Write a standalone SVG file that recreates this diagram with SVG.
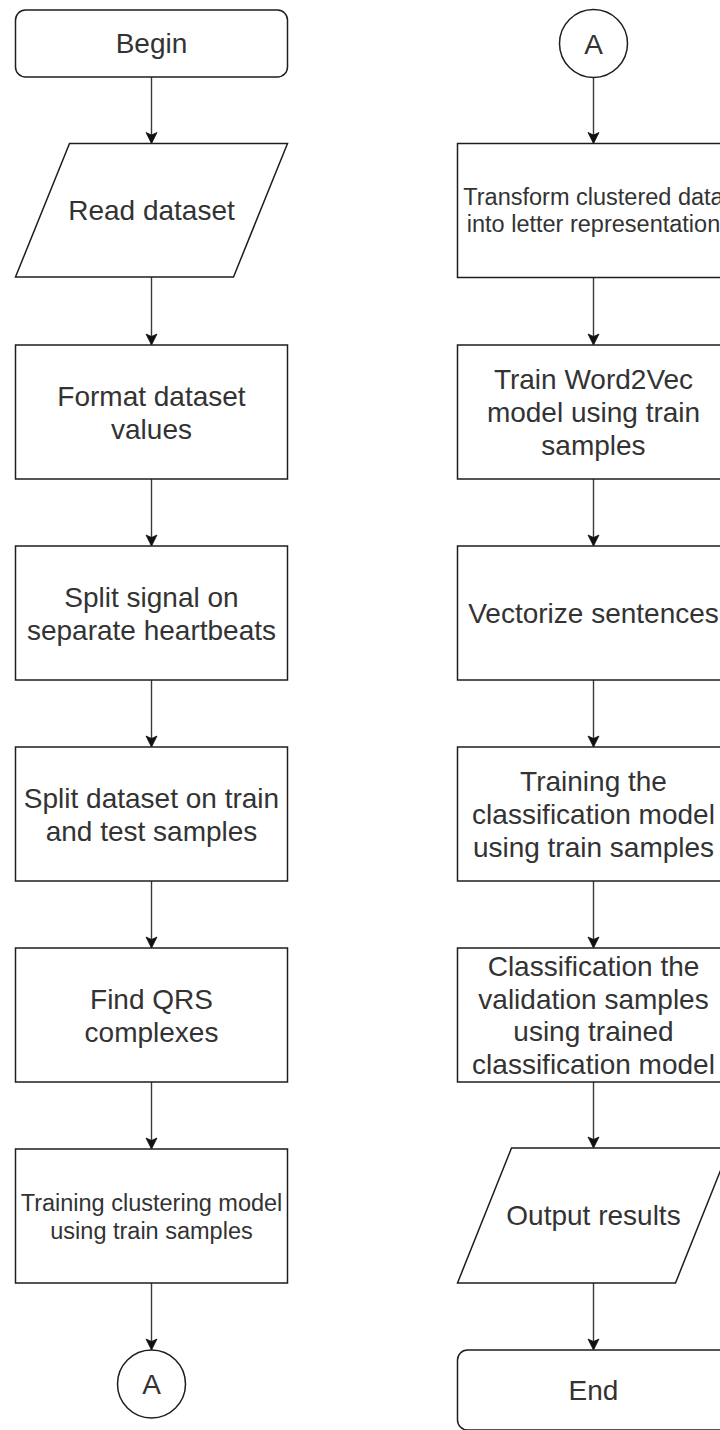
<svg xmlns="http://www.w3.org/2000/svg" width="720" height="1430" viewBox="0 0 720 1430">
  <style>
    .shape { fill: #ffffff; stroke: #1e1e1e; stroke-width: 1.5; }
    .label { font-family: "Liberation Sans", Arial, sans-serif; font-size: 28px; fill: #333333; text-anchor: middle; }
    .small { font-size: 23.5px; }
    .edge { fill: none; stroke: #3a3a3a; stroke-width: 1.4; marker-end: url(#arrow); }
  </style>
  <defs>
    <marker id="arrow" markerUnits="userSpaceOnUse" markerWidth="14" markerHeight="14" viewBox="-12 -7 14 14" refX="0" refY="0" orient="auto">
      <path d="M0,0 L-11,-5.5 L-8.5,0 L-11,5.5 Z" fill="#111111" stroke="#111111" stroke-width="0.8" stroke-linejoin="miter"/>
    </marker>
  </defs>
  <rect width="720" height="1430" fill="#ffffff"/>

  <!-- connectors -->
  <g id="connectors">
    <line class="edge" x1="151.5" y1="77" x2="151.5" y2="143.5"/>
    <line class="edge" x1="151.5" y1="277" x2="151.5" y2="345"/>
    <line class="edge" x1="151.5" y1="479" x2="151.5" y2="546"/>
    <line class="edge" x1="151.5" y1="680" x2="151.5" y2="747"/>
    <line class="edge" x1="151.5" y1="881" x2="151.5" y2="948"/>
    <line class="edge" x1="151.5" y1="1082" x2="151.5" y2="1149"/>
    <line class="edge" x1="151.5" y1="1283" x2="151.5" y2="1350"/>

    <line class="edge" x1="593.5" y1="77.5" x2="593.5" y2="143.5"/>
    <line class="edge" x1="593.5" y1="277.5" x2="593.5" y2="345"/>
    <line class="edge" x1="593.5" y1="479" x2="593.5" y2="546"/>
    <line class="edge" x1="593.5" y1="680" x2="593.5" y2="747"/>
    <line class="edge" x1="593.5" y1="881" x2="593.5" y2="948"/>
    <line class="edge" x1="593.5" y1="1082" x2="593.5" y2="1148"/>
    <line class="edge" x1="593.5" y1="1283" x2="593.5" y2="1350"/>
  </g>

  <!-- left column -->
  <g id="begin">
    <rect class="shape" x="15.5" y="10" width="272" height="67" rx="10"/>
    <text class="label" x="151.5" y="53">Begin</text>
  </g>
  <g id="read-dataset">
    <polygon class="shape" points="69.5,143.5 287.5,143.5 233.5,277 15.5,277"/>
    <text class="label" x="151.5" y="220">Read dataset</text>
  </g>
  <g id="format-values">
    <rect class="shape" x="15.5" y="345" width="272" height="134"/>
    <text class="label" x="151.5" y="405.5">Format dataset</text>
    <text class="label" x="151.5" y="438.5">values</text>
  </g>
  <g id="split-signal">
    <rect class="shape" x="15.5" y="546" width="272" height="134"/>
    <text class="label" x="151.5" y="606.5">Split signal on</text>
    <text class="label" x="151.5" y="639.5">separate heartbeats</text>
  </g>
  <g id="split-dataset">
    <rect class="shape" x="15.5" y="747" width="272" height="134"/>
    <text class="label" x="151.5" y="807.5">Split dataset on train</text>
    <text class="label" x="151.5" y="840.5">and test samples</text>
  </g>
  <g id="find-qrs">
    <rect class="shape" x="15.5" y="948" width="272" height="134"/>
    <text class="label" x="151.5" y="1008.5">Find QRS</text>
    <text class="label" x="151.5" y="1041.5">complexes</text>
  </g>
  <g id="train-clustering">
    <rect class="shape" x="15.5" y="1149" width="272" height="134"/>
    <text class="label small" x="151.5" y="1210.5">Training clustering model</text>
    <text class="label small" x="151.5" y="1238.5">using train samples</text>
  </g>
  <g id="connector-a-out">
    <circle class="shape" cx="151.5" cy="1384" r="34"/>
    <text class="label" x="151.5" y="1394">A</text>
  </g>

  <!-- right column -->
  <g id="connector-a-in">
    <circle class="shape" cx="593.5" cy="43.5" r="34"/>
    <text class="label" x="593.5" y="53.5">A</text>
  </g>
  <g id="transform-letters">
    <rect class="shape" x="457.5" y="143.5" width="272" height="134"/>
    <text class="label small" x="593.5" y="205">Transform clustered data</text>
    <text class="label small" x="593.5" y="232">into letter representation</text>
  </g>
  <g id="train-word2vec">
    <rect class="shape" x="457.5" y="345" width="272" height="134"/>
    <text class="label" x="593.5" y="389">Train Word2Vec</text>
    <text class="label" x="593.5" y="422">model using train</text>
    <text class="label" x="593.5" y="455">samples</text>
  </g>
  <g id="vectorize">
    <rect class="shape" x="457.5" y="546" width="272" height="134"/>
    <text class="label" x="593.5" y="623">Vectorize sentences</text>
  </g>
  <g id="train-classifier">
    <rect class="shape" x="457.5" y="747" width="272" height="134"/>
    <text class="label" x="593.5" y="791">Training the</text>
    <text class="label" x="593.5" y="824">classification model</text>
    <text class="label" x="593.5" y="857">using train samples</text>
  </g>
  <g id="classify-validation">
    <rect class="shape" x="457.5" y="948" width="272" height="134"/>
    <text class="label" x="593.5" y="976">Classification the</text>
    <text class="label" x="593.5" y="1008.5">validation samples</text>
    <text class="label" x="593.5" y="1041">using trained</text>
    <text class="label" x="593.5" y="1073.5">classification model</text>
  </g>
  <g id="output-results">
    <polygon class="shape" points="511.5,1148 729.5,1148 675.5,1283 457.5,1283"/>
    <text class="label" x="593.5" y="1225">Output results</text>
  </g>
  <g id="end">
    <rect class="shape" x="457.5" y="1350" width="272" height="80" rx="10"/>
    <text class="label" x="593.5" y="1400">End</text>
  </g>
</svg>
